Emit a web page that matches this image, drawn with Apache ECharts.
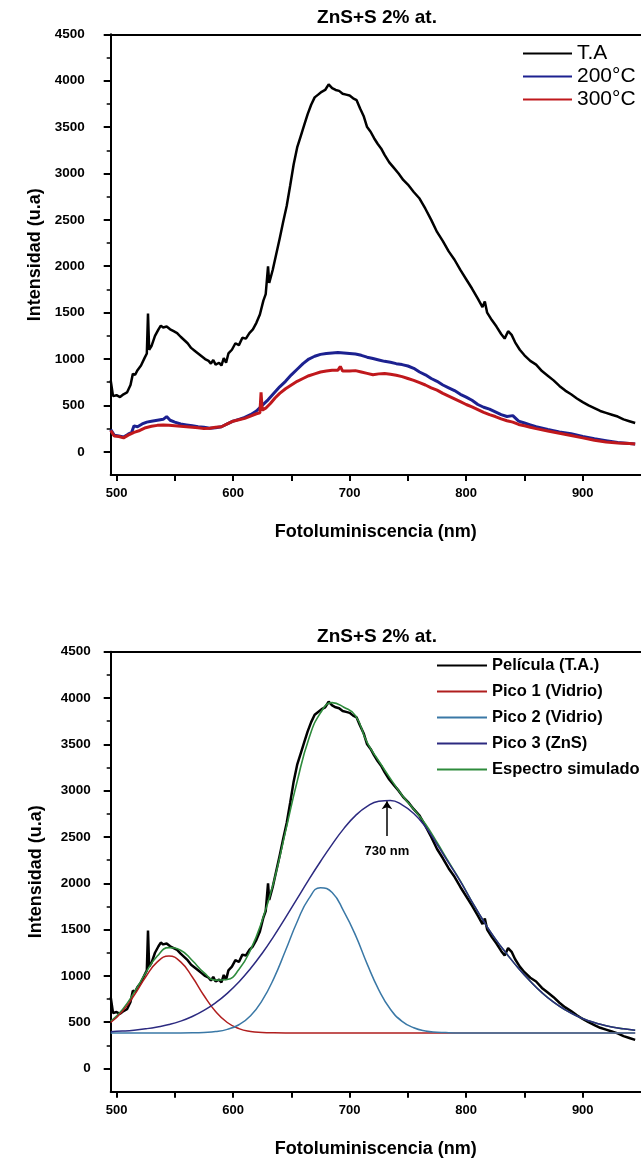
<!DOCTYPE html>
<html><head><meta charset="utf-8">
<script src="https://cdn.jsdelivr.net/npm/echarts@6/dist/echarts.min.js"></script>
<style>html,body{margin:0;padding:0;background:#fff}#c{width:641px;height:1160px}</style>
</head><body><div id="c"></div>
<script>
// ---------- DATA ----------
const chartTitle = 'ZnS+S 2% at.';
const xName = 'Fotoluminiscencia (nm)';
const yName = 'Intensidad (u.a)';
const xTickValues = [500,550,600,650,700,750,800,850,900];
const xLabelValues = [500,600,700,800,900];
const yMajorValues = [0,500,1000,1500,2000,2500,3000,3500,4000,4500];
const yMinorValues = [250,750,1250,1750,2250,2750,3250,3750,4250];

// top chart: T.A (also used as "Película (T.A.)" in the bottom chart)
const taX = [495,497,500,503,506,509,512,514,516,518,521,524,526,527,528,530,533,536,538,540,543,546,549,552,555,558,561,564,567,570,573,576,579,581,583,585,588,590,592,594,596,599,602,605,608,611,614,617,620,623,626,628,630,631,634,637,640,643,646,649,652,655,658,661,664,667,670,673,676,679,682,685,688,691,694,697,700,703,706,709,712,715,718,721,724,727,730,734,738,742,746,750,755,760,765,770,775,780,785,790,795,800,805,810,814,816,818,822,826,830,833,836,839,842,846,850,855,860,865,870,875,880,885,890,895,900,905,910,915,920,925,930,935,940,945];
const taY = [770,600,610,590,620,640,720,840,830,880,930,1010,1060,1490,1100,1140,1250,1320,1360,1340,1350,1320,1300,1280,1240,1205,1170,1120,1090,1060,1030,1000,980,950,990,940,960,930,1010,960,1060,1100,1170,1150,1230,1220,1280,1320,1390,1480,1630,1700,2000,1820,1960,2130,2300,2480,2650,2870,3100,3280,3400,3520,3640,3740,3820,3850,3880,3900,3960,3920,3900,3890,3860,3850,3840,3810,3790,3700,3620,3500,3450,3380,3320,3270,3200,3120,3060,3000,2930,2880,2800,2730,2620,2500,2370,2270,2160,2070,1960,1860,1760,1650,1560,1620,1500,1420,1350,1270,1220,1300,1260,1180,1100,1040,980,940,870,820,770,710,660,620,575,535,500,470,440,420,400,380,350,330,310];

const t200X = [495,498,502,506,510,513,515,518,522,526,530,535,540,543,546,550,555,560,565,570,575,580,585,590,595,600,605,610,615,620,625,630,635,640,645,650,655,660,665,670,675,680,685,690,695,700,705,710,715,720,725,730,735,740,745,750,755,760,765,770,775,780,785,790,795,800,805,810,815,820,825,830,835,840,845,850,855,860,870,880,890,900,910,920,930,940,945];
const t200Y = [240,180,170,160,190,210,280,270,300,320,330,340,350,380,340,320,300,290,280,270,265,255,260,270,300,330,350,370,400,440,500,560,630,700,760,830,890,950,1000,1030,1050,1060,1065,1070,1065,1060,1055,1040,1020,1005,990,975,965,950,940,925,900,860,830,790,760,720,690,660,620,590,555,510,480,460,430,400,380,390,330,310,290,270,240,215,195,165,140,120,100,90,85];

const t300X = [495,498,502,506,510,515,520,525,530,535,540,545,550,555,560,565,570,575,580,585,590,595,600,605,610,615,620,623,624,625,628,632,636,640,645,650,655,660,665,670,675,680,685,690,692,694,700,705,710,715,720,725,730,735,740,745,750,755,760,765,770,775,780,785,790,795,800,805,810,815,820,825,830,835,840,845,850,855,860,870,880,890,900,910,920,930,940,945];
const t300Y = [230,170,165,150,180,210,230,260,275,285,290,285,280,275,270,265,260,250,255,265,270,300,330,345,360,385,410,420,640,450,470,520,580,630,680,720,760,790,820,840,860,870,880,880,920,870,870,875,860,845,830,840,845,835,825,810,790,770,745,720,690,665,630,600,570,540,510,485,455,425,400,380,355,335,320,295,280,265,250,225,200,175,150,125,105,95,90,85];

// bottom chart: fitted peaks (read at 10 nm steps)
const fitX = [495,505,515,525,535,545,555,565,575,585,595,605,615,625,635,645,655,665,675,685,695,705,715,725,735,745,755,765,775,785,795,805,815,825,835,845,855,865,875,885,895,905,915,925,935,945];
const pico1Y = [497,616,789,988,1151,1215,1151,988,789,616,497,431,401,390,386,385,385,385,385,385,385,385,385,385,385,385,385,385,385,385,385,385,385,385,385,385,385,385,385,385,385,385,385,385,385,385];
const pico2Y = [385,385,385,385,385,385,385,386,390,399,423,473,570,735,974,1274,1585,1834,1952,1900,1696,1440,1130,850,640,510,440,406,393,387,385,385,385,385,385,385,385,385,385,385,385,385,385,385,385,385];
const pico3Y = [397,404,414,429,449,475,512,562,627,710,812,935,1080,1245,1430,1630,1835,2040,2235,2420,2590,2730,2830,2885,2894,2846,2753,2610,2420,2220,2020,1800,1590,1400,1235,1080,942,819,716,633,567,516,478,449,429,414];
const simY = [509,635,818,1032,1215,1305,1278,1166,1036,955,962,1069,1281,1600,2020,2560,3100,3560,3840,3950,3901,3810,3520,3320,3130,2950,2800,2640,2440,2230,2025,1800,1590,1400,1235,1080,942,819,716,633,567,516,478,449,429,414];

const peakLabel = '730 nm';
const peakNm = 732;
const arrowFrom = 2510;
const arrowTo = 2885;

// ---------- CHART ----------
const FONT = "'Liberation Sans', Arial, Helvetica, sans-serif";
const pairs = (xs, ys) => xs.map((x, i) => [x, ys[i]]);
const chart = echarts.init(document.getElementById('c'), null, {renderer: 'canvas'});

const grids = [
  {left: 110.7, top: 34.3, width: 538.3, height: 440.7},
  {left: 110.7, top: 651.7, width: 538.3, height: 440}
];
const axisLineStyle = {color: '#000', width: 2};
const xAxes = [], yAxes = [];
[0, 1].forEach(g => {
  xAxes.push({
    gridIndex: g, type: 'value', min: 495, max: 950, position: 'bottom',
    axisLine: {onZero: false, lineStyle: axisLineStyle},
    axisTick: {customValues: xTickValues, length: 6, lineStyle: {color: '#000', width: 2}},
    axisLabel: {customValues: xLabelValues, formatter: v => String(v), color: '#000', fontFamily: FONT, fontWeight: 'bold', fontSize: 13, margin: 12},
    splitLine: {show: false},
    name: xName, nameLocation: 'middle', nameGap: 48,
    nameTextStyle: {color: '#000', fontFamily: FONT, fontWeight: 'bold', fontSize: 18}
  });
  xAxes.push({
    gridIndex: g, type: 'value', min: 495, max: 950, position: 'top',
    axisLine: {onZero: false, lineStyle: axisLineStyle},
    axisTick: {show: false}, axisLabel: {show: false}, splitLine: {show: false}
  });
  yAxes.push({
    gridIndex: g, type: 'value', min: -250, max: 4500, position: 'left',
    axisLine: {onZero: false, lineStyle: axisLineStyle},
    axisTick: {customValues: yMajorValues, length: 7, lineStyle: {color: '#000', width: 2}},
    axisLabel: {customValues: yMajorValues, formatter: v => String(v), color: '#000', fontFamily: FONT, fontWeight: 'bold', fontSize: 13.5, margin: g === 0 ? 26 : 20},
    splitLine: {show: false},
    name: yName, nameLocation: 'middle', nameRotate: 90, nameGap: 66,
    nameTextStyle: {color: '#000', fontFamily: FONT, fontWeight: 'bold', fontSize: 18}
  });
  yAxes.push({
    gridIndex: g, type: 'value', min: -250, max: 4500, position: 'left',
    axisLine: {show: false},
    axisTick: {customValues: yMinorValues, length: 4, lineStyle: {color: '#000', width: 1.5}},
    axisLabel: {show: false}, splitLine: {show: false}
  });
});

function line(name, xs, ys, color, width, g, smooth, extra) {
  return Object.assign({
    name, type: 'line', data: pairs(xs, ys),
    xAxisIndex: g * 2, yAxisIndex: g * 2,
    showSymbol: false, symbol: 'none', smooth: smooth,
    lineStyle: {color, width}, itemStyle: {color},
    emphasis: {disabled: true}, silent: true
  }, extra || {});
}

const option = {
  animation: false,
  backgroundColor: '#fff',
  title: [
    {text: chartTitle, left: 372, top: 3, textAlign: 'center',
     textStyle: {color: '#000', fontFamily: FONT, fontWeight: 'bold', fontSize: 19}},
    {text: chartTitle, left: 372, top: 622, textAlign: 'center',
     textStyle: {color: '#000', fontFamily: FONT, fontWeight: 'bold', fontSize: 19}}
  ],
  grid: grids,
  xAxis: xAxes,
  yAxis: yAxes,
  legend: [
    {data: ['T.A', '200°C', '300°C'], orient: 'vertical', left: 523, top: 43,
     icon: 'rect', itemWidth: 49, itemHeight: 2, itemGap: 2, padding: 0, selectedMode: false,
     textStyle: {color: '#000', fontFamily: FONT, fontSize: 21, lineHeight: 21}},
    {data: ['Película (T.A.)', 'Pico 1 (Vidrio)', 'Pico 2 (Vidrio)', 'Pico 3 (ZnS)', 'Espectro simulado'],
     orient: 'vertical', left: 437, top: 657,
     icon: 'rect', itemWidth: 50, itemHeight: 2, itemGap: 9, padding: 0, selectedMode: false,
     textStyle: {color: '#000', fontFamily: FONT, fontSize: 16.5, fontWeight: 'bold', lineHeight: 17}}
  ],
  series: [
    line('T.A', taX, taY, '#000000', 2.5, 0, false),
    line('200°C', t200X, t200Y, '#1c2190', 3, 0, false),
    line('300°C', t300X, t300Y, '#c0181c', 3, 0, false),
    line('Película (T.A.)', taX, taY, '#000000', 2.5, 1, false),
    line('Espectro simulado', fitX, simY, '#2e8b3c', 1.6, 1, true),
    line('Pico 1 (Vidrio)', fitX, pico1Y, '#b01e1e', 1.5, 1, true),
    line('Pico 2 (Vidrio)', fitX, pico2Y, '#3a78a6', 1.5, 1, true),
    line('Pico 3 (ZnS)', fitX, pico3Y, '#2c2a80', 1.5, 1, true, {
      markLine: {
        silent: true, symbol: ['none', 'arrow'], symbolSize: 8,
        lineStyle: {color: '#000', width: 1.5, type: 'solid'},
        label: {show: true, position: 'start', formatter: peakLabel, distance: 9,
                color: '#000', fontFamily: FONT, fontWeight: 'bold', fontSize: 13},
        data: [[{coord: [peakNm, arrowFrom]}, {coord: [peakNm, arrowTo]}]]
      }
    })
  ]
};
chart.setOption(option);
</script>
</body></html>
